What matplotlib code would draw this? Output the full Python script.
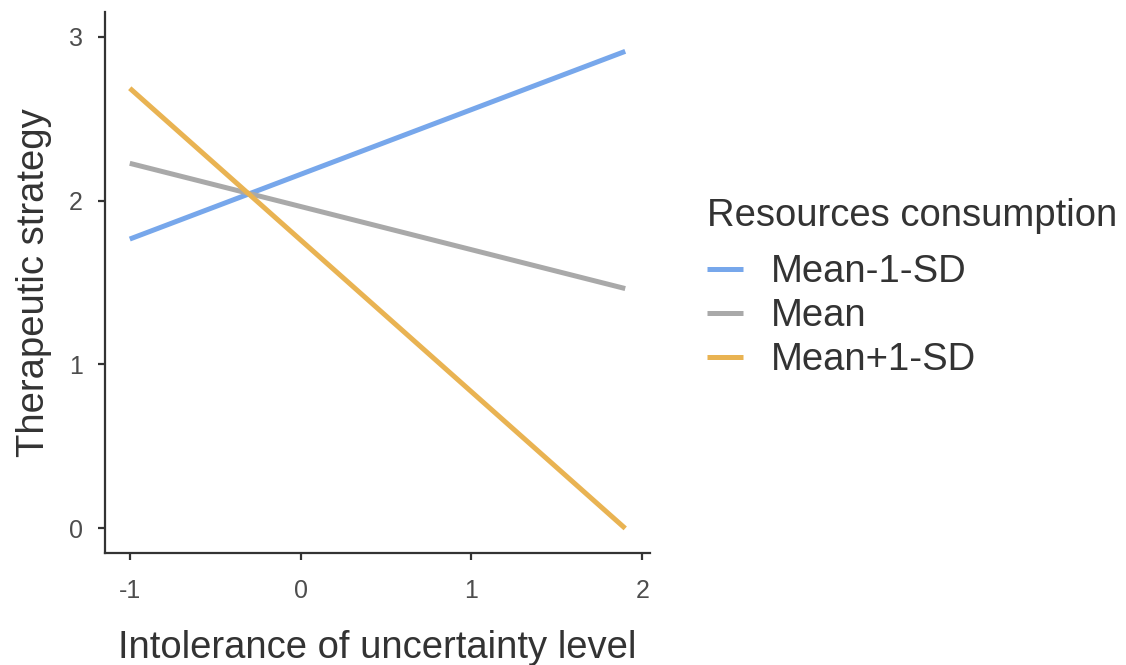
import matplotlib
matplotlib.use("Agg")
import matplotlib.pyplot as plt

# Data
x_vals = [-1.0, 1.9]
series_labels = ["Mean-1-SD", "Mean", "Mean+1-SD"]
y_low = [1.765, 2.91]
y_mean = [2.227, 1.463]
y_high = [2.685, 0.0]
series_values = [y_low, y_mean, y_high]
colors = ["#77A7EB", "#A9A9A9", "#E9B352"]
x_ticks = [-1, 0, 1, 2]
y_ticks = [0, 1, 2, 3]
x_title = "Intolerance of uncertainty level"
y_title = "Therapeutic strategy"
legend_title = "Resources consumption"

plt.rcParams['font.family'] = ['Liberation Sans', 'DejaVu Sans']
text_col = "#333333"
tick_col = "#4D4D4D"

fig = plt.figure(figsize=(11.26, 6.65), dpi=100)
ax = fig.add_axes([105/1126, 1 - 553/665, (650-105)/1126, (553-12)/665])

handles = []
for vals, lab, c in zip(series_values, series_labels, colors):
    h, = ax.plot(x_vals, vals, color=c, lw=3.6, solid_capstyle='butt', label=lab)
    handles.append(h)

ax.set_xlim(-1.145, 2.045)
ax.set_ylim(-0.15, 3.15)
ax.set_xticks(x_ticks)
ax.set_yticks(y_ticks)
ax.set_xticklabels([str(v) for v in x_ticks])
ax.set_yticklabels([str(v) for v in y_ticks])

for s in ['top', 'right']:
    ax.spines[s].set_visible(False)
for s in ['left', 'bottom']:
    ax.spines[s].set_color("#333333")
    ax.spines[s].set_linewidth(1.6)
ax.tick_params(axis='both', length=5, width=1.6, color="#333333",
               labelsize=18, labelcolor=tick_col)
ax.tick_params(axis='x', pad=14)
ax.tick_params(axis='y', pad=11)

ax.set_xlabel(x_title, fontsize=27.5, color=text_col, labelpad=19)
ax.set_ylabel(y_title, fontsize=27.5, color=text_col, labelpad=12)

leg = fig.legend(handles=handles, labels=series_labels, title=legend_title,
                 loc='upper left', bbox_to_anchor=(707/1126, 1 - 198/665),
                 frameon=False, fontsize=27.5, title_fontsize=27.5,
                 handlelength=0.95, handletextpad=0.72, labelspacing=0.21,
                 borderpad=0, borderaxespad=0, alignment='left')
leg._legend_box.sep = 14.4
for t in leg.get_texts():
    t.set_color(text_col)
leg.get_title().set_color(text_col)

fig.savefig("out.png", dpi=100)
